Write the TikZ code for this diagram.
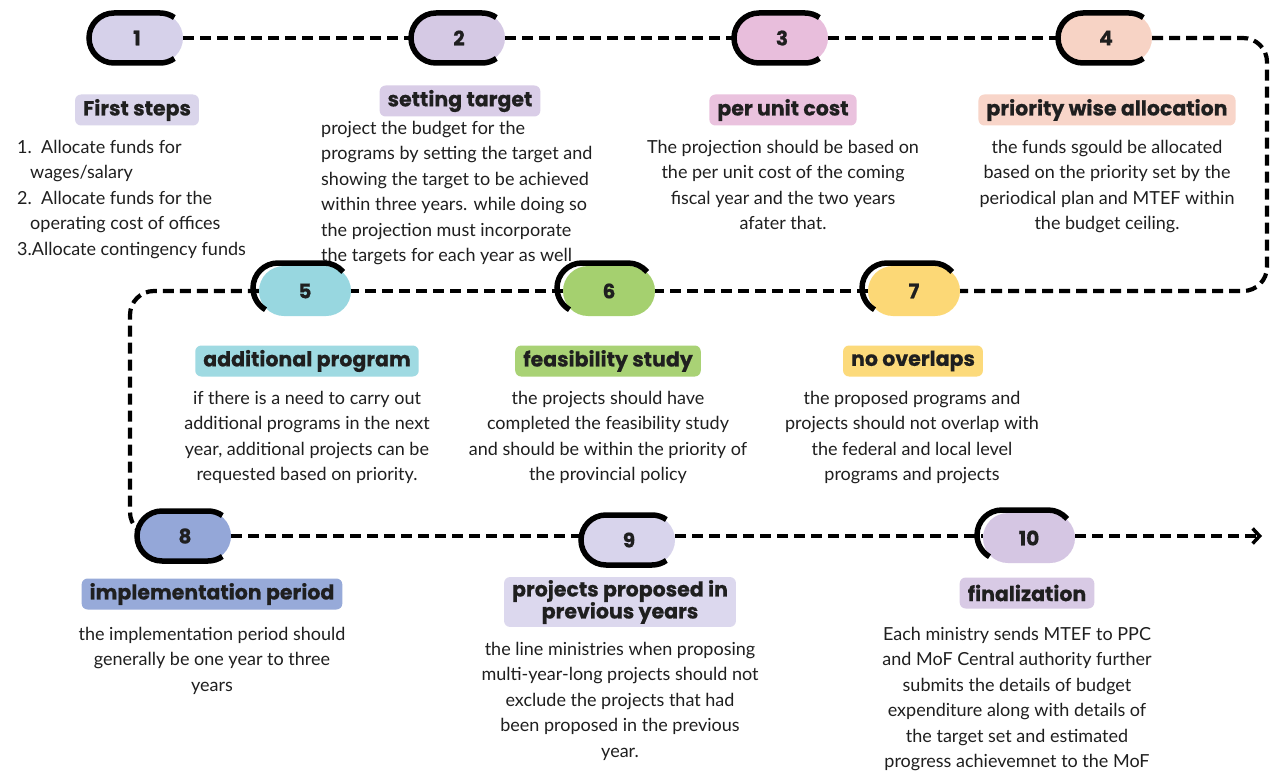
\documentclass[tikz,border=0pt]{standalone}
\usepackage{fontspec}
\setmainfont{Lato}
\newfontfamily\headfont{Poppins}[BoldFeatures={FakeBold=0.6}]
\usetikzlibrary{arrows.meta,calc}

\definecolor{ink}{HTML}{1F1F1F}
\definecolor{cA}{HTML}{D6D1EA}\definecolor{tA}{HTML}{DAD5EB}
\definecolor{cB}{HTML}{D5C9E4}\definecolor{tB}{HTML}{D9CDE7}
\definecolor{cC}{HTML}{E8BEDC}\definecolor{tC}{HTML}{EAC2DE}
\definecolor{cD}{HTML}{F7D3C5}\definecolor{tD}{HTML}{F8D5C9}
\definecolor{cE}{HTML}{98D7E0}\definecolor{tE}{HTML}{9FDAE2}
\definecolor{cF}{HTML}{A5D06F}\definecolor{tF}{HTML}{A9D275}
\definecolor{cG}{HTML}{FCD876}\definecolor{tG}{HTML}{FCDA7B}
\definecolor{cH}{HTML}{94A7D8}\definecolor{tH}{HTML}{97AAD9}
\definecolor{cI}{HTML}{D8D4EC}\definecolor{tI}{HTML}{DCD8EE}
\definecolor{cJ}{HTML}{D5C6E3}\definecolor{tJ}{HTML}{D8CAE5}

\pgfdeclarelayer{paper}
\pgfdeclarelayer{back}
\pgfsetlayers{paper,back,main}

\tikzset{
  pill/.style={rectangle, rounded corners=25pt, minimum width=92pt, minimum height=50pt,
    inner sep=0pt, text=ink, font=\headfont\bfseries\fontsize{20}{20}\selectfont},
  pilledge/.style={draw=black, line width=5.5pt},
  tag/.style={rectangle, rounded corners=6pt, inner xsep=8pt, inner ysep=0pt,
    minimum height=31pt, text=ink, align=center,
    font=\headfont\bfseries\fontsize{20.5}{22}\selectfont},
  body/.style={inner sep=0pt, text=ink, align=center, font=\fontsize{18}{25.5}\selectfont},
  flow/.style={draw=black, line width=4.2pt, dash pattern=on 11pt off 6pt, rounded corners=24pt},
}

% pill with a closed outline on the left, top and bottom
\newcommand\pillclosed[5]{%
  \node[pill, fill=#4] (#1) at (#2,#3) {#5};
  \draw[pilledge] ($(#1.center)+({23+25*cos(55)},{-25*sin(55)})$)
    arc[start angle=-55, end angle=-90, radius=25] -- ++(-46,0)
    arc[start angle=-90, end angle=-270, radius=25] -- ++(46,0)
    arc[start angle=90, end angle=55, radius=25];
}
% pill whose outline is shifted up-left and open at the bottom
\newcommand\pillopen[5]{%
  \node[pill, fill=#4] (#1) at (#2,#3) {#5};
  \draw[pilledge] ($(#1.center)+({-4+23+25*cos(40)},{-3-25*sin(40)})$)
    arc[start angle=-40, end angle=-90, radius=25] -- ++(-46,0)
    arc[start angle=-90, end angle=-240, radius=25];
}

\begin{document}
\begin{tikzpicture}[x=1pt, y=-1pt]
\begin{pgfonlayer}{paper}
  \fill[white] (0,0) rectangle (1271,773);
\end{pgfonlayer}
\useasboundingbox (0,0) rectangle (1271,773);

% step markers
\pillclosed{p1}{137}{38}{cA}{1}
\pillclosed{p2}{459}{38}{cB}{2}
\pillclosed{p3}{782}{38}{cC}{3}
\pillclosed{p4}{1106}{38}{cD}{4}
\pillopen{p5}{305}{291}{cE}{5}
\pillopen{p6}{609}{291}{cF}{6}
\pillopen{p7}{914}{291}{cG}{7}
\pillclosed{p8}{185}{536}{cH}{8}
\pillclosed{p9}{629}{540}{cI}{9}
\pillopen{p10}{1029}{538}{cJ}{10}

\coordinate (turnR1) at (1267,38);
\coordinate (turnR2) at (1267,291);
\coordinate (turnL1) at (130,291);
\coordinate (turnL2) at (130,536);
\coordinate (finish) at (1262,536);

% dashed route between the steps
\begin{pgfonlayer}{back}
  \draw[flow] (p1.east) -- (p2.west);
  \draw[flow] (p2.east) -- (p3.west);
  \draw[flow] (p3.east) -- (p4.west);
  \draw[flow] (p4.east) -- (turnR1) -- (turnR2) -- (p7.east);
  \draw[flow] (p7.west) -- (p6.east);
  \draw[flow] (p6.west) -- (p5.east);
  \draw[flow] (p5.west) -- (turnL1) -- (turnL2) -- (p8.west);
  \draw[flow] (p8.east) -- (p8.east -| p9.west);
  \draw[flow] (p9.east |- p8.east) -- (p10.west |- p8.east);
  \draw[flow, -{Straight Barb[length=7pt, width=15pt, line width=3.5pt]}]
    (p10.east |- p8.east) -- (finish);
\end{pgfonlayer}

% headings
\node[tag, fill=tA] (h1) at (137,110) {First steps};
\node[tag, fill=tB] (h2) at (460,101) {setting target};
\node[tag, fill=tC] (h3) at (783,110) {per unit cost};
\node[tag, fill=tD] (h4) at (1107,110) {priority wise allocation};
\node[tag, fill=tE] (h5) at (307,361) {additional program};
\node[tag, fill=tF] (h6) at (608,361) {feasibility study};
\node[tag, fill=tG] (h7) at (913,361) {no overlaps};
\node[tag, fill=tH] (h8) at (212,594) {implementation period};
\node[tag, fill=tI, inner ysep=3pt] (h9) at (620,602) {projects proposed in\\previous years};
\node[tag, fill=tJ] (h10) at (1027,593) {finalization};

% descriptions
\node[body, align=left, anchor=north west] (d1) at (17,140)
  {1.\ \ Allocate funds for\\
   \hspace*{13pt}wages/salary\\
   2.\ \ Allocate funds for the\\
   \hspace*{13pt}operating cost of offices\\
   3.Allocate contingency funds};
\node[body, align=left, anchor=north west] (d2) at (321,121)
  {project the budget for the\\
   programs by setting the target and\\
   showing the target to be achieved\\
   within three years. while doing so\\
   the projection must incorporate\\
   the targets for each year as well};
\node[body, anchor=north] (d3) at (783,140)
  {The projection should be based on\\
   the per unit cost of the coming\\
   fiscal year and the two years\\
   afater that.};
\node[body, anchor=north] (d4) at (1107,140)
  {the funds sgould be allocated\\
   based on the priority set by the\\
   periodical plan and MTEF within\\
   the budget ceiling.};
\node[body, anchor=north] (d5) at (307,391)
  {if there is a need to carry out\\
   additional programs in the next\\
   year, additional projects can be\\
   requested based on priority.};
\node[body, anchor=north] (d6) at (608,391)
  {the projects should have\\
   completed the feasibility study\\
   and should be within the priority of\\
   the provincial policy};
\node[body, anchor=north] (d7) at (912,391)
  {the proposed programs and\\
   projects should not overlap with\\
   the federal and local level\\
   programs and projects};
\node[body, anchor=north] (d8) at (212,627)
  {the implementation period should\\
   generally be one year to three\\
   years};
\node[body, anchor=north] (d9) at (620,642)
  {the line ministries when proposing\\
   multi-year-long projects should not\\
   exclude the projects that had\\
   been proposed in the previous\\
   year.};
\node[body, anchor=north] (d10) at (1017,627)
  {Each ministry sends MTEF to PPC\\
   and MoF Central authority further\\
   submits the details of budget\\
   expenditure along with details of\\
   the target set and estimated\\
   progress achievemnet to the MoF};
\end{tikzpicture}
\end{document}
